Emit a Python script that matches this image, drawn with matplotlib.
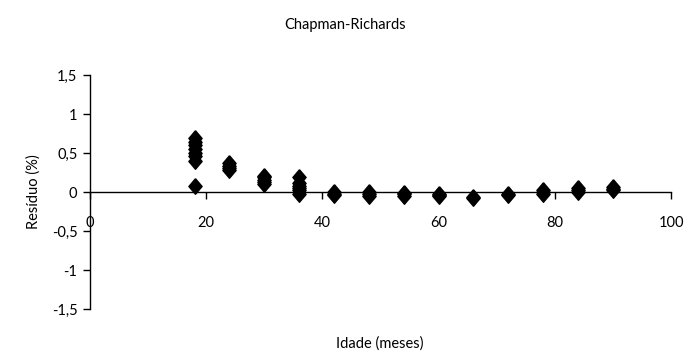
import matplotlib
matplotlib.use("Agg")
import matplotlib.pyplot as plt
from matplotlib.ticker import FuncFormatter

plt.rcParams['font.family'] = ['Lato', 'DejaVu Sans']

# residuals per age class (months)
idade = [18, 24, 30, 36, 42, 48, 54, 60, 66, 72, 78, 84, 90]
residuos = [
    [0.08, 0.40, 0.46, 0.50, 0.55, 0.60, 0.64, 0.69],
    [0.28, 0.31, 0.34, 0.37],
    [0.10, 0.13, 0.16, 0.19, 0.21],
    [-0.02, 0.02, 0.05, 0.08, 0.12, 0.19],
    [-0.04, -0.02, 0.0],
    [-0.05, -0.03, 0.0],
    [-0.05, -0.03, -0.01],
    [-0.05, -0.04, -0.03],
    [-0.07, -0.06],
    [-0.04, -0.02],
    [-0.02, 0.0, 0.02],
    [0.0, 0.02, 0.05],
    [0.02, 0.04, 0.07],
]

xs = []
ys = []
for x, vals in zip(idade, residuos):
    xs += [x] * len(vals)
    ys += vals

fig = plt.figure(figsize=(6.9, 3.54), dpi=100)
ax = fig.add_axes([0.1304, 0.127, 0.8421, 0.661])

diamond = [(0, 1), (0.85, 0), (0, -1), (-0.85, 0), (0, 1)]
ax.plot(xs, ys, linestyle='none', marker=diamond, markersize=11.2,
        color='black', clip_on=False)

ax.set_xlim(0, 100)
ax.set_ylim(-1.5, 1.5)
ax.set_xticks([0, 20, 40, 60, 80, 100])
ax.set_yticks([-1.5, -1, -0.5, 0, 0.5, 1, 1.5])

fmt = FuncFormatter(lambda v, p: ('%g' % v).replace('.', ','))
ax.yaxis.set_major_formatter(fmt)

ax.spines['top'].set_visible(False)
ax.spines['right'].set_visible(False)
ax.spines['bottom'].set_position(('data', 0))
ax.spines['left'].set_linewidth(1.0)
ax.spines['bottom'].set_linewidth(1.0)

ax.tick_params(axis='x', direction='out', length=5, width=1, pad=12, labelsize=10.5)
ax.tick_params(axis='y', direction='out', length=5, width=1, pad=4, labelsize=10.5)

ax.set_ylabel('Resíduo (%)', fontsize=10.5, labelpad=8)
fig.text(0.551, 0.03, 'Idade (meses)', ha='center', va='center', fontsize=10.5)
fig.text(0.5, 0.93, 'Chapman-Richards', ha='center', va='center', fontsize=10.5)

fig.savefig('out.png', dpi=100)
